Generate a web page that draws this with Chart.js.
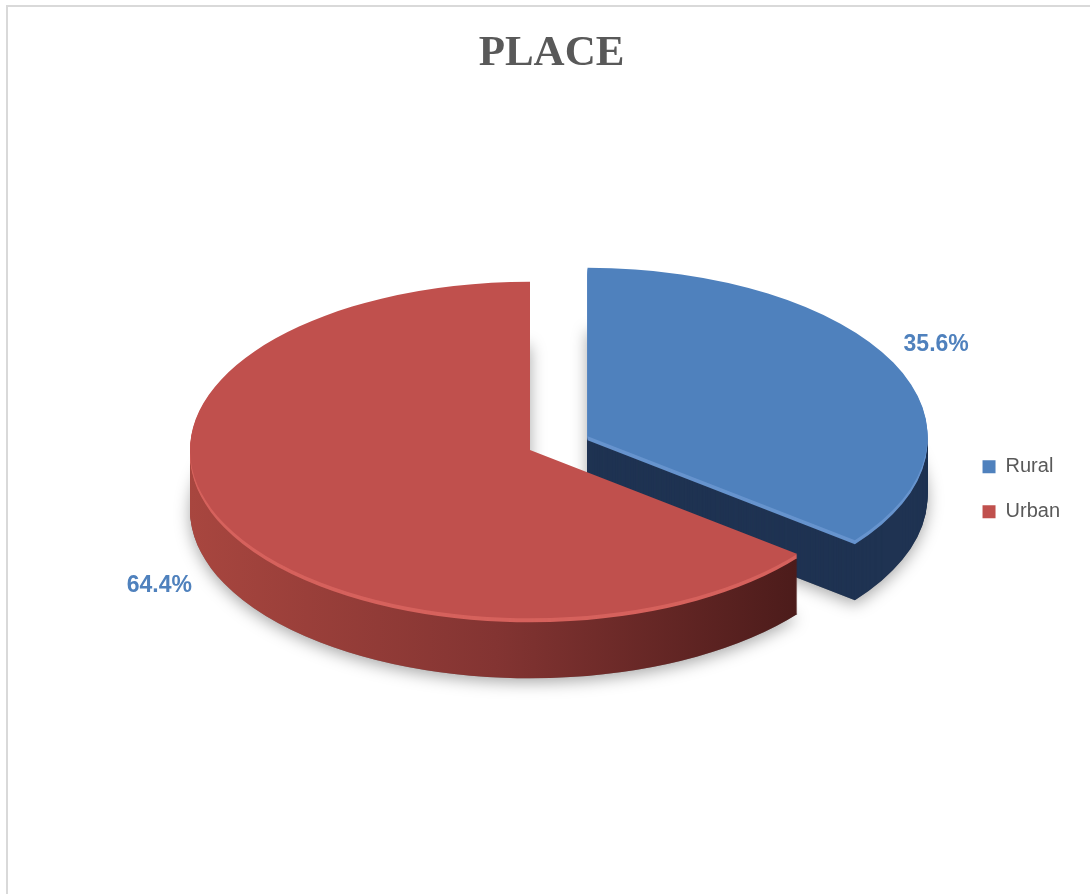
<!DOCTYPE html>
<html lang="en">
<head>
  <meta charset="UTF-8">
  <title>Place</title>
  <script src="https://cdn.jsdelivr.net/npm/chart.js"></script>
  <style>
    body { margin: 0; background: white; overflow: hidden; }
    #wrap { position: relative; width: 1090px; height: 894px; }
    #frame { position: absolute; left: 6px; top: 5px; right: -10px; bottom: -10px; border-left: 2px solid #d9d9d9; border-top: 2px solid #d9d9d9; pointer-events: none; }
    canvas { position: absolute; left: 0; top: 0; }
  </style>
</head>
<body>
<div id="wrap">
  <canvas id="place-chart" width="1090" height="894"></canvas>
  <div id="frame"></div>
</div>

<script>
const categories = ['Rural', 'Urban'];
const shares = [35.6, 64.4];
const topColors = ['#4F81BD', '#C0504D'];

// 3d look: pie is flattened and drawn at this spot, with a side wall under it
const PIE_X = 530, PIE_Y = 450, TILT = 0.495, DEPTH = 60;
const explode = [64, 0];
const rimColors = ['#6794CE', '#D6625D'];

function project(ctx, arc, i) {
  const mid = (arc.startAngle + arc.endAngle) / 2;
  ctx.translate(PIE_X, PIE_Y);
  ctx.scale(1, TILT);
  ctx.translate(Math.cos(mid) * explode[i] - arc.x, Math.sin(mid) * explode[i] - arc.y);
}

// lets arc.draw() paint its own shape in another colour
function tinted(ctx, fill) {
  return new Proxy(ctx, {
    get(t, p) { const v = t[p]; return typeof v === 'function' ? v.bind(t) : v; },
    set(t, p, v) { t[p] = p === 'fillStyle' ? fill : v; return true; }
  });
}

function sideFill(ctx, arc, i) {
  if (i === 0) return '#1F3352';
  const g = ctx.createLinearGradient(arc.x - arc.outerRadius, 0, arc.x + arc.outerRadius, 0);
  g.addColorStop(0, '#A8463F');
  g.addColorStop(0.45, '#833432');
  g.addColorStop(0.9, '#4B1B1A');
  g.addColorStop(1, '#461919');
  return g;
}

const pie3d = {
  id: 'pie3d',
  beforeDatasetsDraw(chart) {
    const ctx = chart.ctx;
    const arcs = chart.getDatasetMeta(0).data;
    // back slices first
    const order = arcs.map((a, i) => i).sort((a, b) => {
      const ma = (arcs[a].startAngle + arcs[a].endAngle) / 2;
      const mb = (arcs[b].startAngle + arcs[b].endAngle) / 2;
      return Math.sin(ma) - Math.sin(mb);
    });
    // soft shadow under the whole pie
    order.forEach(i => {
      ctx.save();
      ctx.shadowColor = 'rgba(0,0,0,0.35)';
      ctx.shadowBlur = 16;
      ctx.shadowOffsetY = 4;
      ctx.translate(0, DEPTH);
      project(ctx, arcs[i], i);
      arcs[i].draw(tinted(ctx, '#888'));
      ctx.restore();
    });
    // side walls, then the top faces
    order.forEach(i => {
      const arc = arcs[i];
      const side = sideFill(ctx, arc, i);
      for (let d = DEPTH; d >= 1; d--) {
        ctx.save();
        ctx.translate(0, d);
        project(ctx, arc, i);
        arc.draw(tinted(ctx, d <= 4 ? rimColors[i] : side));
        ctx.restore();
      }
    });
    order.forEach(i => {
      ctx.save();
      project(ctx, arcs[i], i);
      arcs[i].draw(ctx);
      ctx.restore();
    });
    return false;
  },
  afterDraw(chart) {
    const ctx = chart.ctx;
    const arcs = chart.getDatasetMeta(0).data;
    ctx.save();
    ctx.font = 'bold 23px "Liberation Sans", Arial, sans-serif';
    ctx.fillStyle = '#4F81BD';
    ctx.textAlign = 'center';
    ctx.textBaseline = 'middle';
    arcs.forEach((arc, i) => {
      const mid = (arc.startAngle + arc.endAngle) / 2;
      const dist = explode[i] + arc.outerRadius * 1.14;
      let x = PIE_X + Math.cos(mid) * dist;
      let y = PIE_Y + Math.sin(mid) * dist * TILT;
      if (Math.sin(mid) > 0) { y += DEPTH - 8; x += Math.sign(Math.cos(mid)) * 22; }
      else y -= 8;
      ctx.fillText(shares[i].toFixed(1) + '%', x, y);
    });
    ctx.restore();
  }
};

new Chart(document.getElementById('place-chart'), {
  type: 'pie',
  data: {
    labels: categories,
    datasets: [{
      data: shares,
      backgroundColor: topColors,
      borderWidth: 0,
      radius: 340,
      clip: false
    }]
  },
  options: {
    responsive: false,
    animation: false,
    events: [],
    devicePixelRatio: 1,
    layout: { padding: { top: 0, right: 20, bottom: 5, left: 33 } },
    plugins: {
      title: {
        display: true,
        text: 'PLACE',
        color: '#595959',
        font: { family: '"Times New Roman", "Liberation Serif", serif', size: 43, weight: 'bold' },
        padding: { top: 28, bottom: 10 }
      },
      legend: {
        position: 'right',
        fullSize: false,
        labels: {
          boxWidth: 13,
          boxHeight: 13,
          padding: 25,
          color: '#595959',
          font: { family: '"Liberation Sans", Arial, sans-serif', size: 20 }
        }
      },
      tooltip: { enabled: false }
    }
  },
  plugins: [pie3d]
});
</script>
</body>
</html>
